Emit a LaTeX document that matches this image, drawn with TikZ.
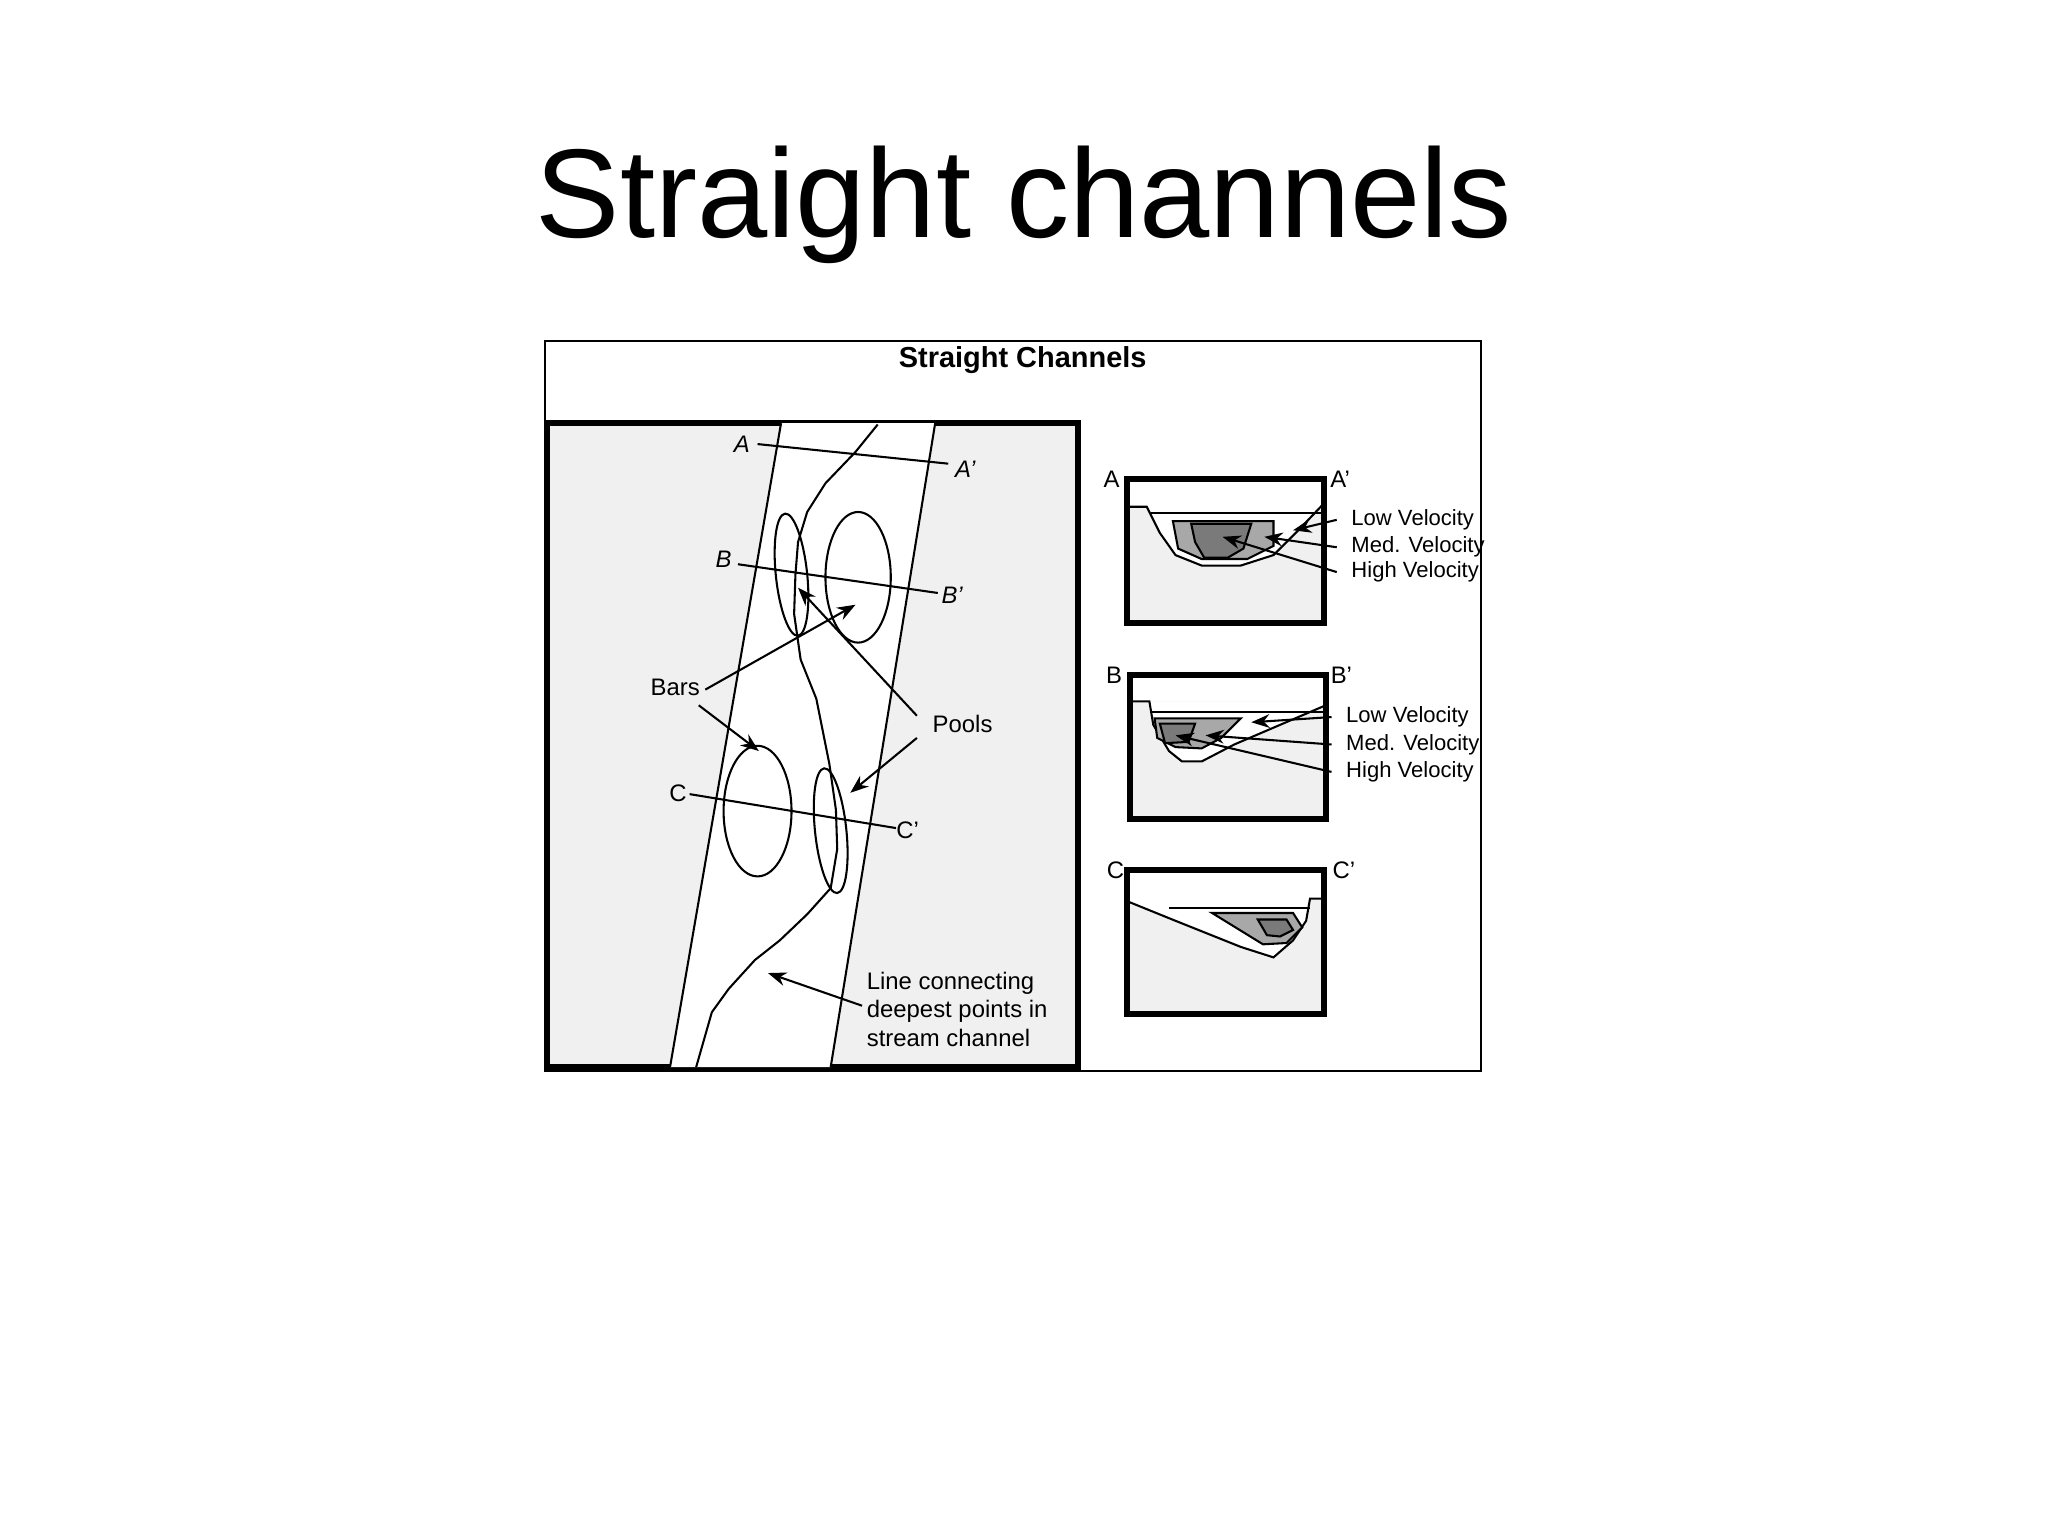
\documentclass[tikz,border=0pt]{standalone}
\usepackage{fontspec}
\setmainfont{Liberation Sans}
\usetikzlibrary{arrows.meta}
\definecolor{bg}{HTML}{F0F0F0}
\definecolor{med}{HTML}{A8A8A8}
\definecolor{dark}{HTML}{7A7A7A}
\begin{document}
\begin{tikzpicture}[x=0.01cm,y=-0.01cm,
  lab/.style={font=\fontsize{5.2pt}{6pt}\selectfont,inner sep=0pt},
  ilab/.style={font=\itshape\fontsize{5.2pt}{6pt}\selectfont,inner sep=0pt},
  vlab/.style={font=\fontsize{4.8pt}{5.5pt}\selectfont,inner sep=0pt,anchor=west},
  arr/.style={-{Stealth[length=4pt,width=3pt]},line width=0.45pt},
  ln/.style={line width=0.45pt},
  sect/.style={draw,line width=1.3pt,fill=bg}]
\useasboundingbox (0,0) rectangle (1568,1176);
\node[font=\fontsize{27.5pt}{30pt}\selectfont] (title) at (784,157) {Straight channels};
\draw[line width=0.5pt] (417,261) rectangle (1134,820);
\node[font=\bfseries\fontsize{6.3pt}{7pt}\selectfont] (sub) at (783,276) {Straight Channels};
% plan view
\draw[sect] (419,324) rectangle (825,817);
\fill[white] (598,324) -- (716,324) -- (636,817) -- (513,817) -- cycle;
\draw[ln] (598,324) -- (513,817);
\draw[ln] (716,324) -- (636,817);
\draw[ln] (672,325) -- (655,346) -- (632,370) -- (618,392) -- (611,415) -- (609,440) -- (608,470) -- (613,505) -- (625,535) -- (630,560) -- (635,585) -- (640,620) -- (641,650) -- (636,680) -- (618,700) -- (597,720) -- (578,735) -- (558,757) -- (545,775) -- (533,817);
\draw[ln,rotate around={6:(606,440)}] (606,440) ellipse (12 and 47);
\draw[ln] (657,442) ellipse (25 and 50);
\draw[ln] (580,621) ellipse (26 and 50);
\draw[ln,rotate around={6:(636,636)}] (636,636) ellipse (12 and 48);
\node[ilab] (A) at (568,340) {A};
\node[ilab] (Ap) at (739,359) {A'};
\node[ilab] (B) at (554,428) {B};
\node[ilab] (Bp) at (729,456) {B'};
\node[lab] (C) at (519,607) {C};
\node[lab] (Cp) at (695,636) {C'};
\draw[ln] (580,340) -- (726,355);
\draw[ln] (565,432) -- (718,454);
\draw[ln] (528,608) -- (686,634);
\node[lab] (bars) at (517,526) {Bars};
\node[lab] (pools) at (737,554) {Pools};
\coordinate (b1) at (655,463); \coordinate (b2) at (581,575);
\coordinate (p1) at (611,450); \coordinate (p2) at (651,607);
\draw[arr] (540,528) -- (b1);
\draw[arr] (535,540) -- (b2);
\draw[arr] (702,548) -- (p1);
\draw[arr] (702,565) -- (p2);
\node[lab,align=left,anchor=north west,font=\fontsize{5.2pt}{6.1pt}\selectfont] (lc) at (663,744) {Line connecting\\deepest points in\\stream channel};
\coordinate (t1) at (588,745);
\draw[arr] (660,770) -- (t1);
% section A
\draw[sect] (863,367) rectangle (1014,477);
\fill[white] (863,367) rectangle (1014,388);
\fill[white] (878,388) -- (888,408) -- (900,425) -- (920,433) -- (950,433) -- (975,425) -- (995,405) -- (1014,385) -- (1014,388) -- cycle;
\draw[ln] (863,388) -- (878,388) -- (888,408) -- (900,425) -- (920,433) -- (950,433) -- (975,425) -- (995,405) -- (1014,385);
\draw[ln] (881,393) -- (1014,393);
\draw[ln,fill=med] (898,399) -- (975,399) -- (975,418) -- (955,428) -- (920,428) -- (902,420) -- cycle;
\draw[ln,fill=dark] (912,401) -- (958,401) -- (952,420) -- (940,427) -- (922,427) -- (915,415) -- cycle;
\draw[line width=1.3pt] (863,367) rectangle (1014,477);
\node[lab] (sA) at (851,367) {A};
\node[lab] (sAp) at (1026,367) {A'};
\node[vlab] (lowA) at (1034,398) {Low Velocity};
\node[vlab] (medA) at (1034,419) {Med. Velocity};
\node[vlab] (highA) at (1034,438) {High Velocity};
\draw[arr] ([xshift=-3]lowA.west) -- (990,406);
\draw[arr] ([xshift=-3]medA.west) -- (968,411);
\draw[arr] ([xshift=-3]highA.west) -- (936,411);
% section B
\draw[sect] (865,517) rectangle (1015,627);
\fill[white] (865,517) rectangle (1015,537);
\fill[white] (880,537) -- (883,555) -- (895,575) -- (905,583) -- (920,583) -- (945,570) -- (1015,540) -- (1015,537) -- cycle;
\draw[ln] (865,537) -- (880,537) -- (883,555) -- (895,575) -- (905,583) -- (920,583) -- (945,570) -- (1015,540);
\draw[ln] (882,545) -- (1015,545);
\draw[ln,fill=med] (884,550) -- (950,550) -- (935,565) -- (920,573) -- (900,572) -- (886,565) -- cycle;
\draw[ln,fill=dark] (888,554) -- (915,554) -- (910,568) -- (892,569) -- cycle;
\draw[line width=1.3pt] (865,517) rectangle (1015,627);
\node[lab] (sB) at (853,517) {B};
\node[lab] (sBp) at (1027,517) {B'};
\node[vlab] (lowB) at (1030,549) {Low Velocity};
\node[vlab] (medB) at (1030,570) {Med. Velocity};
\node[vlab] (highB) at (1030,591) {High Velocity};
\draw[arr] ([xshift=-3]lowB.west) -- (958,553);
\draw[arr] ([xshift=-3]medB.west) -- (923,563);
\draw[arr] ([xshift=-3]highB.west) -- (900,563);
% section C
\draw[sect] (863,666) rectangle (1014,776);
\fill[white] (863,666) rectangle (1014,688);
\fill[white] (863,690) -- (900,705) -- (950,725) -- (975,733) -- (990,720) -- (1000,705) -- (1003,688) -- (863,688) -- cycle;
\draw[ln] (863,690) -- (900,705) -- (950,725) -- (975,733) -- (990,720) -- (1000,705) -- (1003,688) -- (1014,688);
\draw[ln] (895,695) -- (1003,695);
\draw[ln,fill=med] (928,699) -- (990,699) -- (997,710) -- (985,722) -- (967,723) -- cycle;
\draw[ln,fill=dark] (963,704) -- (985,704) -- (990,712) -- (980,717) -- (970,716) -- cycle;
\draw[line width=1.3pt] (863,666) rectangle (1014,776);
\node[lab] (sC) at (854,666) {C};
\node[lab] (sCp) at (1029,666) {C'};
\end{tikzpicture}
\end{document}
